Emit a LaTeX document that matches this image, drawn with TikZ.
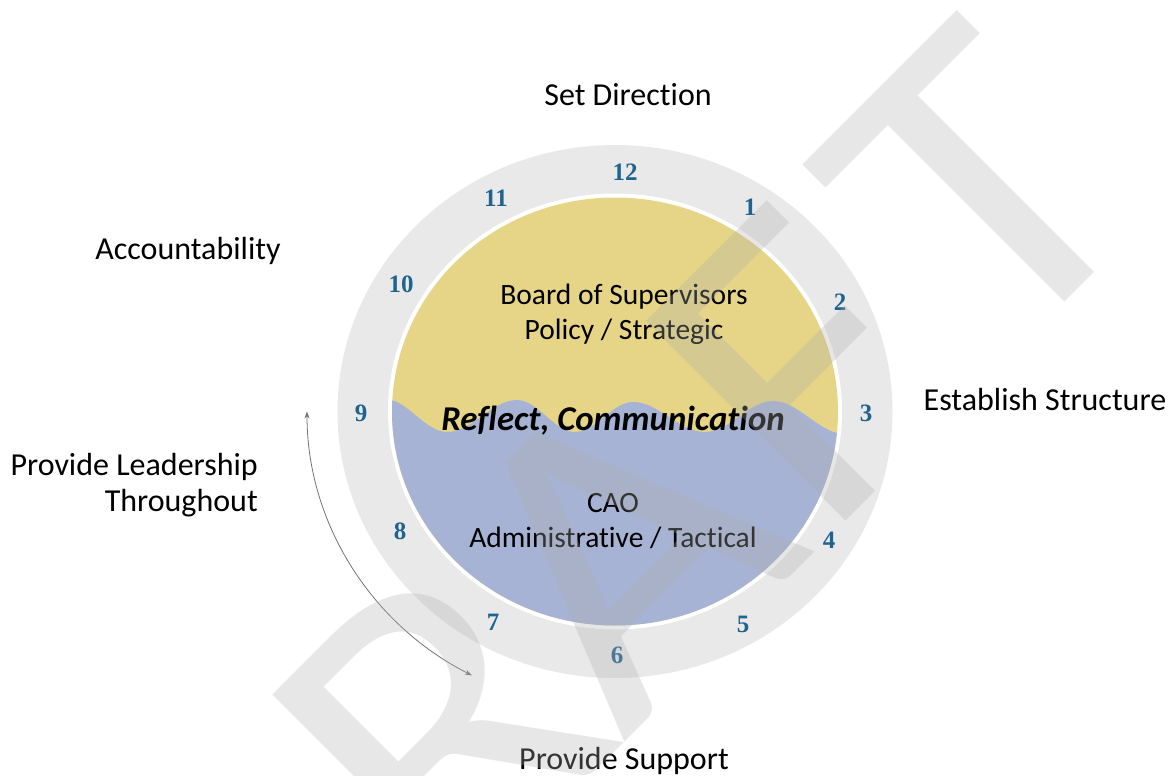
\documentclass[tikz,border=0pt]{standalone}
\usepackage{fontspec}
\setmainfont{Carlito}[Ligatures=NoCommon]
\newfontfamily\clockfont{Liberation Serif}
\usetikzlibrary{arrows.meta}

\definecolor{ringgray}{RGB}{233,233,233}
\definecolor{boardyellow}{RGB}{230,213,134}
\definecolor{caoblue}{RGB}{166,179,212}
\definecolor{clockblue}{RGB}{31,99,143}
\definecolor{markgray}{RGB}{175,175,175}
\definecolor{arrowgray}{RGB}{115,115,115}

\begin{document}
\begin{tikzpicture}[x=1pt,y=-1pt,
  outerlabel/.style={font=\fontsize{32}{36}\selectfont, align=center, inner sep=0pt},
  innerlabel/.style={font=\fontsize{29.5}{35}\selectfont, align=center, inner sep=0pt},
  hour/.style={font=\clockfont\bfseries\fontsize{25}{25}\selectfont, text=clockblue, inner sep=0pt},
  cycle arrow/.style={draw=arrowgray, line width=0.8pt,
    {Stealth[length=7pt,width=5pt]}-{Stealth[length=7pt,width=5pt]}},
  markletter/.style={rotate=45, anchor=base, inner sep=0pt, text=markgray,
    opacity=0.3, font=\fontsize{440}{440}\selectfont},
]
\useasboundingbox (0,0) rectangle (1171,776);
\clip (0,0) rectangle (1171,776);

% clock face
\coordinate (c) at (615,411.5);
\fill[ringgray] (c) ellipse[x radius=277.5, y radius=266.5];
\fill[white] (c) ellipse[x radius=227, y radius=218];
\begin{scope}
  \clip (c) ellipse[x radius=223, y radius=214];
  \fill[boardyellow] (370,180) rectangle (860,640);
  \fill[caoblue] (370,399) -- (385,399)
    .. controls (407,399) and (425,432) .. (447,432)
    .. controls (472,432) and (492,400) .. (517,400)
    .. controls (538,400) and (554,432) .. (575,432)
    .. controls (596,432) and (612,402) .. (633,402)
    .. controls (659,402) and (679,432) .. (705,432)
    .. controls (729,432) and (749,401) .. (773,401)
    .. controls (799,401) and (819,434) .. (845,434)
    -- (860,434) -- (860,640) -- (370,640) -- cycle;
\end{scope}

% hour marks
\node[hour] (h12) at (625,172) {12};
\node[hour] (h1)  at (750,207) {1};
\node[hour] (h2)  at (840,302) {2};
\node[hour] (h3)  at (866,413) {3};
\node[hour] (h4)  at (829,540) {4};
\node[hour] (h5)  at (743,624) {5};
\node[hour] (h6)  at (617,655) {6};
\node[hour] (h7)  at (493,622) {7};
\node[hour] (h8)  at (400,531) {8};
\node[hour] (h9)  at (361,413) {9};
\node[hour] (h10) at (401,284) {10};
\node[hour] (h11) at (496,198) {11};

% texts inside the face
\node[innerlabel] (board) at (624,314) {Board of Supervisors\\Policy / Strategic};
\node[inner sep=0pt, font=\bfseries\itshape\fontsize{34.8}{38}\selectfont] (reflect) at (613,421) {Reflect, Communication};
\node[innerlabel] (cao) at (613,521) {CAO\\Administrative / Tactical};

% phases around the cycle
\node[outerlabel] (setdir) at (628,95) {Set Direction};
\node[outerlabel] (estab) at (1045,400) {Establish Structure};
\node[outerlabel] (support) at (624,761) {Provide Support};
\node[outerlabel, align=right, anchor=east] (lead) at (258,485) {Provide Leadership\\Throughout};
\node[outerlabel] (acct) at (188,251) {Accountability};

% double-headed arc on the left
\coordinate (arcTop) at (307,411.5);
\draw[cycle arrow] (arcTop) arc[start angle=180, end angle=117.7, x radius=308, y radius=298];

% watermark, one letter at a time along the diagonal
\node[markletter] (markD) at (351,1016)   {\scalebox{1.07}[1]{D}};
\node[markletter] (markR) at (538.5,828.5){\scalebox{1.07}[1]{R}};
\node[markletter] (markA) at (720,647)    {\scalebox{1.07}[1]{A}};
\node[markletter] (markF) at (900,467)    {\scalebox{1.07}[1]{F}};
\node[markletter] (markT) at (1080,287)   {\scalebox{1.07}[1]{T}};
\end{tikzpicture}
\end{document}
